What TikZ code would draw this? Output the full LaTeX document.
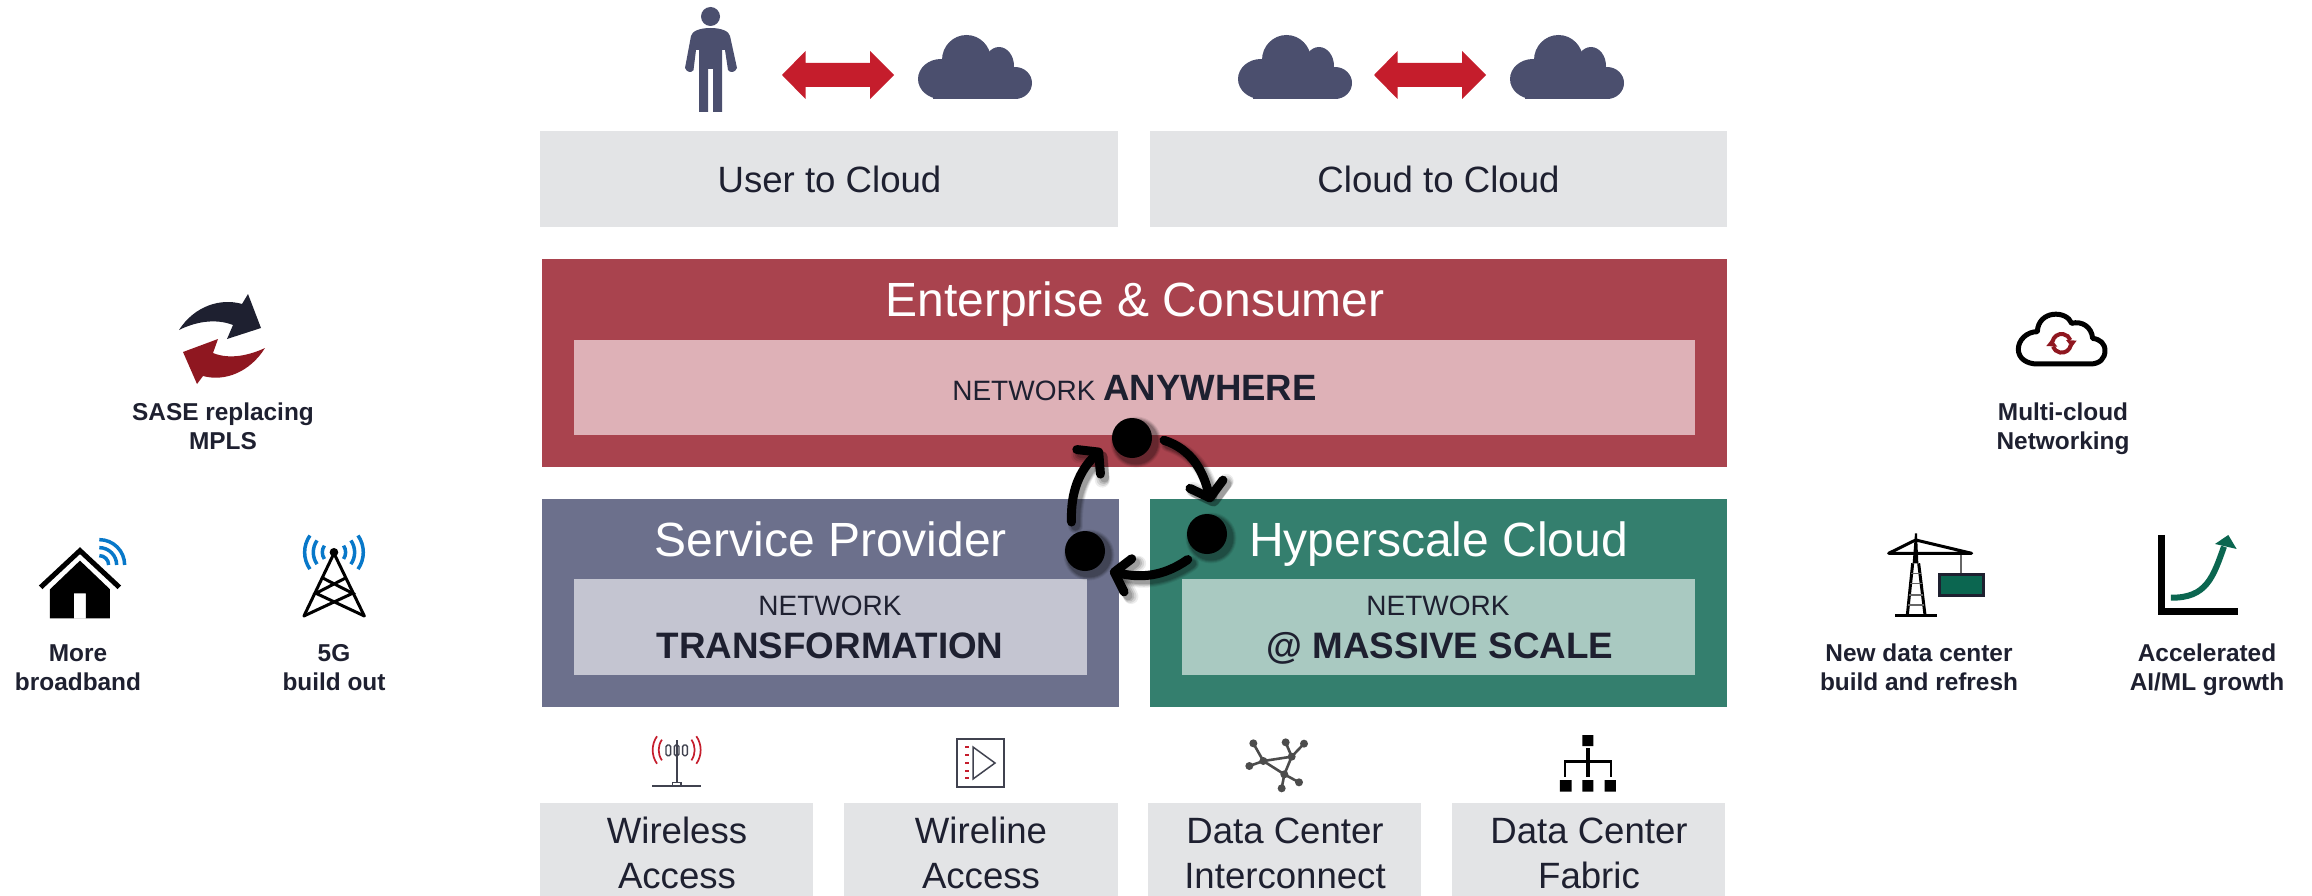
\documentclass[tikz,border=0pt]{standalone}
\usepackage{fontspec}
\setmainfont{Liberation Sans}
\usetikzlibrary{arrows.meta}
\pgfdeclarelayer{cycshadow}
\pgfdeclarelayer{cyctop}
\pgfsetlayers{main,cycshadow,cyctop}
\definecolor{ink}{HTML}{1E2030}
\definecolor{slateicon}{HTML}{4B4F6E}
\definecolor{redicon}{HTML}{C51D2C}
\definecolor{darkred}{HTML}{8F1720}
\definecolor{panelgray}{HTML}{E3E4E6}
\definecolor{entdark}{HTML}{A9434E}
\definecolor{entlight}{HTML}{DEB1B7}
\definecolor{spdark}{HTML}{6C708C}
\definecolor{splight}{HTML}{C4C5D1}
\definecolor{hydark}{HTML}{347F6E}
\definecolor{hylight}{HTML}{A9C9C1}
\definecolor{bluewave}{HTML}{0878C9}
\definecolor{greenicon}{HTML}{0B6650}
\newcommand{\FS}[2]{\fontsize{#1}{#2}\selectfont}
\newcommand{\cyclelinks}[1]{%
  \draw[cycline,#1] (c1.-4) to[out=-18,in=104] (c2.83);
  \draw[cycline,#1] (c2.-127) to[out=-145,in=-13] (c3.-39);
  \draw[cycline,#1] (c3.115) to[out=92,in=-136] (c1.200);
}
\tikzset{
  x=1pt,y=-1pt,
  panel/.style={inner sep=0,outer sep=0,anchor=north west},
  lab/.style={anchor=base,inner sep=0,text=ink,font=\FS{36.6}{45}},
  white title/.style={anchor=base,inner sep=0,text=white,font=\FS{48}{56}},
  net/.style={anchor=base,inner sep=0,text=ink,font=\FS{28}{34}},
  strong/.style={anchor=base,inner sep=0,text=ink,font=\FS{36.8}{44}\bfseries},
  side/.style={anchor=base,inner sep=0,text=ink,align=center,font=\FS{24.4}{28.5}\bfseries},
  hub/.style={circle,fill=black,minimum size=40pt,inner sep=0,outer sep=12pt},
  cycline/.style={line width=9pt,line cap=round,line join=round,
     -{Straight Barb[length=14pt,width=34pt,round]}},
  cloudicon/.pic={
    \fill[slateicon] (23,44) ellipse[x radius=23,y radius=20];
    \fill[slateicon] (48.5,25) ellipse[x radius=24.5,y radius=25];
    \fill[slateicon] (81,31) ellipse[x radius=15,y radius=19];
    \fill[slateicon] (97,48) ellipse[x radius=17,y radius=16];
    \fill[slateicon] (15,36) rectangle (100,64);
  },
  dblarrow/.pic={
    \fill[redicon] (0,24)--(23.5,0)--(23.5,12)--(88,12)--(88,0)--(112,24)--(88,48)--(88,36)--(23.5,36)--(23.5,48)--cycle;
  },
}
\begin{document}
\begin{tikzpicture}
\useasboundingbox (0,0) rectangle (2312,896);

% panels
\node[panel,fill=panelgray,minimum width=578pt,minimum height=96pt] (uc) at (540,131) {};
\node[panel,fill=panelgray,minimum width=577pt,minimum height=96pt] (cc) at (1150,131) {};
\node[panel,fill=entdark,minimum width=1185.5pt,minimum height=208pt] (ent) at (541.5,259) {};
\node[panel,fill=entlight,minimum width=1120.5pt,minimum height=95pt] (enti) at (574,340) {};
\node[panel,fill=spdark,minimum width=577.5pt,minimum height=208pt] (sp) at (541.5,499) {};
\node[panel,fill=splight,minimum width=513pt,minimum height=96pt] (spi) at (574,579) {};
\node[panel,fill=hydark,minimum width=577pt,minimum height=208pt] (hy) at (1150,499) {};
\node[panel,fill=hylight,minimum width=512.5pt,minimum height=96pt] (hyi) at (1182,579) {};
\node[panel,fill=panelgray,minimum width=273pt,minimum height=93pt] (wl) at (540,803) {};
\node[panel,fill=panelgray,minimum width=274pt,minimum height=93pt] (wn) at (844,803) {};
\node[panel,fill=panelgray,minimum width=273pt,minimum height=93pt] (dci) at (1148,803) {};
\node[panel,fill=panelgray,minimum width=273pt,minimum height=93pt] (dcf) at (1452,803) {};

% texts
\node[lab] (tuc) at (829.5,193) {User to Cloud};
\node[lab] (tcc) at (1438.5,193) {Cloud to Cloud};
\node[white title] (tent) at (1135,316) {Enterprise \& Consumer};
\node[anchor=base,inner sep=0,text=ink] (tany) at (1134.5,400.5) {\FS{28}{34}NETWORK \FS{36.6}{44}\bfseries ANYWHERE};
\node[white title] (tsp) at (831,556.5) {Service Provider};
\node[net] (tsp1) at (830,615.5) {NETWORK};
\node[strong] (tsp2) at (830,658.5) {TRANSFORMATION};
\node[white title] (thy) at (1438.5,556.5) {Hyperscale Cloud};
\node[net] (thy1) at (1438,615.5) {NETWORK};
\node[strong] (thy2) at (1440,658.5) {@ MASSIVE SCALE};
\node[lab,align=center] (twl) at (677,888) {Wireless\\Access};
\node[lab,align=center] (twn) at (981,888) {Wireline\\Access};
\node[lab,align=center] (tdci) at (1285,888) {Data Center\\Interconnect};
\node[lab,align=center] (tdcf) at (1589,888) {Data Center\\Fabric};
\node[side] (tsase) at (223,449) {SASE replacing\\MPLS};
\node[side] (tmore) at (78,690) {More\\broadband};
\node[side] (t5g) at (334,690) {5G\\build out};
\node[side] (tmc) at (2063,449) {Multi-cloud\\Networking};
\node[side] (tnew) at (1919,690) {New data center\\build and refresh};
\node[side] (tai) at (2207,690) {Accelerated\\AI/ML growth};

% top icons
\fill[slateicon] (710.5,16.5) circle[radius=9.5];
\fill[slateicon] (699,112)--(699,50)--(696,50)--(693.5,70) .. controls (692,73) and (687,73) .. (685,68)
  --(691,36) .. controls (692,31) and (700,28) .. (710.5,28) .. controls (721,28) and (729,31) .. (730,36)
  --(737,68) .. controls (735,73) and (730,73) .. (728,70)--(725,50)--(722,50)--(722,112)--(713,112)--(713,69)--(708,69)--(708,112)--cycle;
\pic at (918,35) {cloudicon};
\pic at (1238,35) {cloudicon};
\pic at (1510,35) {cloudicon};
\pic at (782,51) {dblarrow};
\pic at (1374,51) {dblarrow};

% SASE arrows
\fill[ink] (179,330) .. controls (195,305) and (222,298) .. (242,304) -- (248,294) -- (261,328) -- (227,339) -- (233,325)
  .. controls (215,318) and (195,322) .. (179,330) -- cycle;
\fill[darkred] (265,348) .. controls (250,372) and (225,382) .. (203,376) -- (197,384) -- (183,352) -- (218,339) -- (213,353)
  .. controls (230,360) and (250,355) .. (265,348) -- cycle;

% Left icons
\begin{scope}[shift={(0,270)},x=0.3333pt,y=-0.3333pt]
  \draw[black,line width=5pt,line join=miter] (122,952)--(240,842)--(358,952);
  \fill[black,even odd rule] (150,1045)--(150,958)--(240,872)--(330,958)--(330,1045)--cycle
     (222,1045)--(222,970)--(258,970)--(258,1045)--cycle;
  \foreach \r in {28,52,76}
    \draw[bluewave,line width=3.5pt] (298,885)++(-90:\r) arc[start angle=-90,end angle=0,radius=\r];
  \foreach \r in {35,62,88}{
    \draw[bluewave,line width=3.5pt] (1002,847)++(145:\r) arc[start angle=145,end angle=215,radius=\r];
    \draw[bluewave,line width=3.5pt] (1002,847)++(-35:\r) arc[start angle=-35,end angle=35,radius=\r];
  }
  \begin{scope}[black,line width=3pt,line cap=round]
    \draw (1002,850)--(912,1038) (1002,850)--(1093,1038);
    \draw (912,1038)--(1058,970)--(970,925) (1093,1038)--(948,970)--(1035,925);
  \end{scope}
  \fill[black] (1002,847) circle[radius=13];
\end{scope}

% Right icons
\begin{scope}[shift={(1800,290)},x=0.3333pt,y=-0.3333pt]
  \draw[black,line width=5pt,line join=round]
    (712,222)--(870,222) .. controls (900,222) and (915,205) .. (915,182)
    .. controls (915,160) and (900,148) .. (878,145)
    .. controls (875,110) and (845,92) .. (815,100)
    .. controls (800,60) and (715,60) .. (712,125)
    .. controls (680,125) and (655,150) .. (655,178)
    .. controls (655,205) and (680,222) .. (712,222) -- cycle;
  \draw[darkred,line width=4pt] (785,160)++(-170:28) arc[start angle=-170,end angle=-20,radius=28];
  \draw[darkred,line width=4pt] (785,160)++(10:28) arc[start angle=10,end angle=160,radius=28];
  \fill[darkred] (798,150)--(830,152)--(815,172)--cycle;
  \fill[darkred] (772,170)--(739,168)--(755,148)--cycle;
  % crane
  \fill[black] (345,730)--(351,730)--(355,820)--(338,820)--cycle;
  \draw[black,line width=3pt,line cap=round] (266,790)--(515,790) (347,750)--(515,790) (347,750)--(266,790);
  \draw[black,line width=3pt] (338,820)--(322,975) (356,820)--(375,975);
  \draw[black!60,line width=1.3pt] (333,850)--(362,850) (330,880)--(365,880) (327,915)--(369,915) (325,945)--(372,945);
  \draw[black,line width=3.5pt] (285,977)--(412,977);
  \draw[black!60,line width=1.3pt] (483,795)--(483,855);
  \draw[ink,fill=greenicon,line width=3pt] (418,855) rectangle (550,917);
  % chart
  \draw[black,line width=7pt] (1085,735)--(1085,965)--(1315,965);
  \draw[greenicon,line width=6pt] (1113,923) .. controls (1220,925) and (1240,860) .. (1272,770);
  \fill[greenicon] (1245,762)--(1285,735)--(1310,777)--cycle;
\end{scope}

% Bottom icons
\begin{scope}[shift={(630,725)},x=0.3333pt,y=-0.3333pt]
  \draw[ink!85,line width=1.7pt] (66,183)--(212,183) (140,45)--(140,172);
  \draw[ink!85,line width=1.2pt] (128,183)--(128,172)--(153,172)--(153,183);
  \foreach \a in {108,133,158}
    \draw[ink!85,line width=1.4pt,rounded corners=1.5pt] (\a,60) rectangle (\a+14,92);
  \foreach \r in {54,72}{
    \draw[redicon,line width=1.7pt] (140,75)++(145:\r) arc[start angle=145,end angle=215,radius=\r];
    \draw[redicon,line width=1.7pt] (140,75)++(-35:\r) arc[start angle=-35,end angle=35,radius=\r];
  }
\end{scope}
\draw[ink!85,line width=1.5pt] (957,739) rectangle (1004,787);
\draw[ink!85,line width=1.5pt] (973,747)--(995,763)--(973,779)--cycle;
\foreach \yy in {747,755,763,771,778}
  \draw[redicon,line width=1.7pt] (965,\yy)--(969,\yy);
\begin{scope}[shift={(1230,725)},x=0.3333pt,y=-0.3333pt]
  \begin{scope}[black!70,line width=2.6pt]
    \draw (100,108)--(185,95)--(163,148)--cycle;
    \draw (100,108)--(70,55) (100,108)--(58,123) (185,95)--(167,52) (185,95)--(222,56) (163,148)--(155,190) (163,148)--(207,172);
    \foreach \p in {(70,55),(58,123),(167,52),(222,56),(155,190),(207,172),(100,108),(185,95),(163,148)}
      \fill \p circle[radius=12];
  \end{scope}
  \fill[black] (1057,30) rectangle (1090,63) (990,165) rectangle (1025,200) (1057,165) rectangle (1090,200) (1124,165) rectangle (1158,200);
  \draw[black,line width=2.5pt] (1005,155)--(1005,110)--(1143,110)--(1143,155);
  \draw[black,line width=3.5pt] (1074,70)--(1074,155);
\end{scope}

% cycle
\begin{pgfonlayer}{cyctop}
  \node[hub] (c1) at (1132,438) {};
  \node[hub] (c2) at (1207,534) {};
  \node[hub] (c3) at (1085,551) {};
  \cyclelinks{}
\end{pgfonlayer}
\begin{pgfonlayer}{cycshadow}
  \begin{scope}[transform canvas={shift={(4pt,-4pt)}},black]
  \foreach \w/\o in {15/.07,13/.1,11/.13,9/.15}{
    \cyclelinks{line width=\w pt,opacity=\o}
    \fill[opacity=\o] (c1.center) circle[radius=18+\w/2];
    \fill[opacity=\o] (c2.center) circle[radius=18+\w/2];
    \fill[opacity=\o] (c3.center) circle[radius=18+\w/2];
  }
  \end{scope}
\end{pgfonlayer}
\end{tikzpicture}
\end{document}
